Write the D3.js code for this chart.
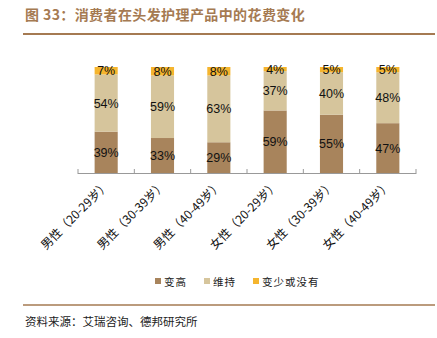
<!DOCTYPE html>
<html><head><meta charset="utf-8">
<script src="https://cdn.jsdelivr.net/npm/d3@7"></script>
<style>body{margin:0;background:#fff;}svg{display:block;}</style>
</head><body>
<script>
const categories = ["男性（20-29岁）","男性（30-39岁）","男性（40-49岁）","女性（20-29岁）","女性（30-39岁）","女性（40-49岁）"];
const seriesNames = ["变高","维持","变少或没有"];
const higher = [39,33,29,59,55,47];
const maintain = [54,59,63,37,40,48];
const lessOrNone = [7,8,8,4,5,5];
const colors = ["#a8845c","#d6c59c","#f5b52e"];
const titleText = "图 33：消费者在头发护理产品中的花费变化";
const sourceText = "资料来源：艾瑞咨询、德邦研究所";

const W=437,H=338;
const svg=d3.select("body").append("svg").attr("width",W).attr("height",H);
const font="'Noto Sans CJK SC','Liberation Sans',sans-serif";

svg.append("text").attr("x",25).attr("y",20).text(titleText)
  .attr("font-family",font).attr("font-size",14).attr("font-weight","bold")
  .attr("letter-spacing",0.4).attr("fill","#a57a52");
svg.append("line").attr("x1",23).attr("x2",435).attr("y1",34).attr("y2",34)
  .attr("stroke","#a57a52").attr("stroke-width",2);
svg.append("line").attr("x1",23).attr("x2",435).attr("y1",305).attr("y2",305)
  .attr("stroke","#a57a52").attr("stroke-width",1.5);
svg.append("text").attr("x",25).attr("y",326).text(sourceText)
  .attr("font-family",font).attr("font-size",11.5).attr("fill","#222");

const x=d3.scaleBand().domain(categories).range([78,416]).paddingInner(0.59).paddingOuter(0.295);
const y=d3.scaleLinear().domain([0,100]).range([173,67]);

const series=[higher,maintain,lessOrNone];
const rows=categories.map((c,i)=>({cat:c,s0:higher[i],s1:maintain[i],s2:lessOrNone[i]}));
const stack=d3.stack().keys(["s0","s1","s2"])(rows);

const g=svg.append("g");
stack.forEach((layer,k)=>{
  g.selectAll(null).data(layer).enter().append("rect")
    .attr("x",d=>x(d.data.cat)).attr("width",x.bandwidth())
    .attr("y",d=>y(d[1])).attr("height",d=>y(d[0])-y(d[1]))
    .attr("fill",colors[k]);
  g.selectAll(null).data(layer).enter().append("text")
    .attr("x",d=>x(d.data.cat)+x.bandwidth()/2)
    .attr("y",d=>(y(d[0])+y(d[1]))/2)
    .attr("dy","0.36em").attr("text-anchor","middle")
    .attr("font-family","'Liberation Sans',Arial,sans-serif").attr("font-size",12.5)
    .attr("fill","#111").text(d=>(d[1]-d[0])+"%");
});

// axis
const step=x.step();
svg.append("line").attr("x1",78).attr("x2",416).attr("y1",173.5).attr("y2",173.5).attr("stroke","#999");
const ticks=d3.range(categories.length+1).map(i=>78+i*(338/categories.length));
svg.selectAll(null).data(ticks).enter().append("line")
  .attr("x1",d=>d).attr("x2",d=>d).attr("y1",169).attr("y2",174).attr("stroke","#999");

svg.selectAll(null).data(categories).enter().append("text")
  .attr("transform",d=>`translate(${x(d)+x.bandwidth()/2+4},${186}) rotate(-45)`)
  .attr("text-anchor","end").attr("font-family",font).attr("font-size",12)
  .attr("fill","#111").text(d=>d);

// legend
const lx=[155,204,253];
seriesNames.forEach((n,i)=>{
  svg.append("rect").attr("x",lx[i]).attr("y",278).attr("width",6).attr("height",6).attr("fill",colors[i]);
  svg.append("text").attr("x",lx[i]+9).attr("y",285.5).text(n)
    .attr("font-family",font).attr("font-size",10.5).attr("letter-spacing",1).attr("fill","#222");
});
</script>
</body></html>
